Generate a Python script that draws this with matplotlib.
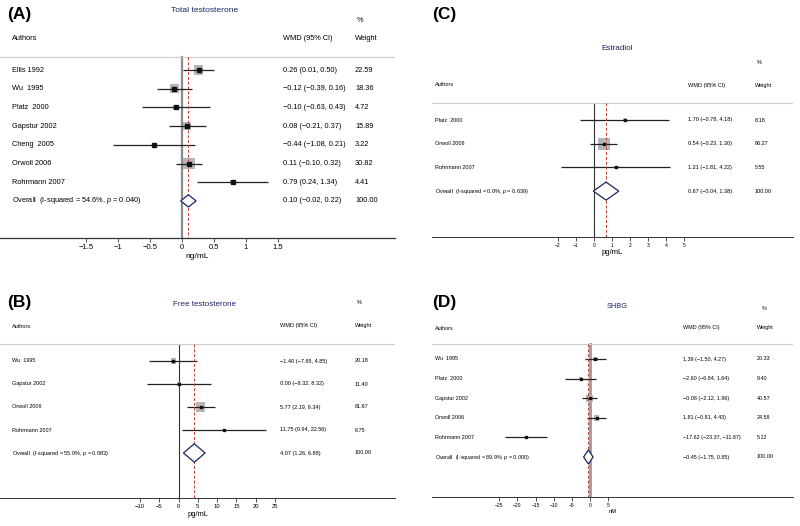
"""
Forest plots (WMD, 95% CI) for four hormones, laid out 2x2.
"""

import numpy as np
import matplotlib
matplotlib.use('Agg')
import matplotlib.pyplot as plt

plt.rcParams['font.family'] = ['Liberation Sans', 'DejaVu Sans']
plt.rcParams['mathtext.fontset'] = 'custom'
plt.rcParams['mathtext.rm'] = 'Liberation Sans'
plt.rcParams['mathtext.it'] = 'Liberation Sans:italic'

W, H = 800, 526

# ---------------- data ----------------
a_authors = ['Ellis 1992', 'Wu  1995', 'Platz  2000', 'Gapstur 2002',
             'Cheng  2005', 'Orwoll 2006', 'Rohrmann 2007']
a_est     = [0.26, -0.12, -0.10, 0.08, -0.44, 0.11, 0.79]
a_lo      = [0.01, -0.39, -0.63, -0.21, -1.08, -0.10, 0.24]
a_hi      = [0.50, 0.16, 0.43, 0.37, 0.21, 0.32, 1.34]
a_weight  = [22.59, 18.36, 4.72, 15.89, 3.22, 30.82, 4.41]
a_overall = (0.10, -0.02, 0.22)
a_het     = '54.6%', '0.040'
a_ticks   = [-1.5, -1, -0.5, 0, 0.5, 1, 1.5]

b_authors = ['Wu  1995', 'Gapstur 2002', 'Orwoll 2006', 'Rohrmann 2007']
b_est     = [-1.40, 0.00, 5.77, 11.75]
b_lo      = [-7.65, -8.32, 2.19, 0.94]
b_hi      = [4.85, 8.32, 9.34, 22.56]
b_weight  = [20.18, 11.40, 61.67, 6.75]
b_overall = (4.07, 1.26, 6.88)
b_het     = '55.0%', '0.083'
b_ticks   = [-10, -5, 0, 5, 10, 15, 20, 25]

c_authors = ['Platz  2000', 'Orwoll 2006', 'Rohrmann 2007']
c_est     = [1.70, 0.54, 1.21]
c_lo      = [-0.78, -0.23, -1.81]
c_hi      = [4.18, 1.30, 4.22]
c_weight  = [8.18, 86.27, 5.55]
c_overall = (0.67, -0.04, 1.38)
c_het     = '0.0%', '0.639'
c_ticks   = [-2, -1, 0, 1, 2, 3, 4, 5]

d_authors = ['Wu  1995', 'Platz  2000', 'Gapstur 2002', 'Orwoll 2006', 'Rohrmann 2007']
d_est     = [1.39, -2.60, -0.08, 1.81, -17.62]
d_lo      = [-1.50, -6.84, -2.12, -0.81, -23.37]
d_hi      = [4.27, 1.64, 1.96, 4.43, -11.87]
d_weight  = [20.33, 9.40, 40.57, 24.58, 5.12]
d_overall = (-0.45, -1.75, 0.85)
d_het     = '89.9%', '0.000'
d_ticks   = [-25, -20, -15, -10, -5, 0, 5]

NAVY = '#1c2466'
RED = '#c0392b'
BOXGRAY = '#b5b5b5'


def fmt(v):
    return '{:.2f}'.format(v).replace('-', '\u2212')


def forest(fig, g, authors, est, lo, hi, weight, overall, het, ticks,
           label, title, unit):
    left, right, top, axis_y = g['left'], g['right'], g['top'], g['axis']
    zero, ppu, row0, dy = g['zero'], g['ppu'], g['row0'], g['dy']
    fs = g['fs']

    ax = fig.add_axes([left / W, 1 - axis_y / H, (right - left) / W, (axis_y - top) / H])
    ax.set_xlim((left - zero) / ppu, (right - zero) / ppu)
    ax.set_ylim((axis_y - row0) / dy, (top - row0) / dy)
    for s in ['top', 'right', 'left']:
        ax.spines[s].set_visible(False)
    ax.spines['bottom'].set_linewidth(g['spine_lw'])
    ax.spines['bottom'].set_color('#333333')
    ax.set_yticks([])
    ax.set_xticks(ticks)
    ax.set_xticklabels([('{:g}'.format(t)).replace('-', '\u2212') for t in ticks])
    ax.tick_params(axis='x', labelsize=g['tick_fs'], length=3, width=0.6,
                   pad=1.5, color='#333333')
    ax.set_xlabel(unit, fontsize=g['lab_fs'], labelpad=g['labpad'])

    hline = (g['hline'] - row0) / dy
    ybot = (axis_y - row0) / dy
    n = len(authors)
    rows = np.arange(n)
    ov_row = n

    ax.axhline(hline, color='#cccccc', lw=0.8)
    ax.plot([0, 0], [hline, ybot], color=g['zero_color'], lw=g['zero_lw'], zorder=1)
    ax.plot([overall[0], overall[0]], [hline, ybot], color=RED, lw=0.7,
            ls=(0, (3, 2)), zorder=4)

    # study estimates
    sizes = (g['box_k'] * np.sqrt(weight) * 0.72) ** 2
    ax.scatter(est, rows, s=sizes, marker='s', color=BOXGRAY, lw=0, zorder=2)
    ax.hlines(rows, lo, hi, color='#222222', lw=0.9, zorder=3)
    ax.plot(est, rows, 's', color='#111111', ms=g['dot_ms'], zorder=5)

    # pooled diamond
    h = g['dh']
    ax.fill([overall[1], overall[0], overall[2], overall[0]],
            [ov_row, ov_row - h, ov_row, ov_row + h],
            facecolor='white', edgecolor=NAVY, lw=0.9, zorder=6)

    # text columns
    tr = ax.get_yaxis_transform()
    fx = lambda px: (px - left) / (right - left)
    for i in range(n):
        ax.text(fx(g['x_name']), i, authors[i], transform=tr, fontsize=fs, va='center')
        ax.text(fx(g['x_wmd']), i, '{} ({}, {})'.format(fmt(est[i]), fmt(lo[i]), fmt(hi[i])),
                transform=tr, fontsize=fs, va='center')
        ax.text(fx(g['x_w']), i, '{:.2f}'.format(weight[i]), transform=tr, fontsize=fs, va='center')
    ax.text(fx(g['x_name']), ov_row,
            'Overall  (I-squared = {}, $p$ = {})'.format(het[0], het[1]),
            transform=tr, fontsize=fs, va='center')
    ax.text(fx(g['x_wmd']), ov_row, '{} ({}, {})'.format(*[fmt(v) for v in overall]),
            transform=tr, fontsize=fs, va='center')
    ax.text(fx(g['x_w']), ov_row, '100.00', transform=tr, fontsize=fs, va='center')

    # headers
    ft = lambda x, y: (x / W, 1 - y / H)
    fig.text(*ft(*g['p_label']), label, fontsize=12.5, fontweight='bold', va='center')
    fig.text(*ft(*g['p_title']), title, fontsize=g['title_fs'], color=NAVY,
             ha='center', va='center')
    fig.text(*ft(*g['p_pct']), '%', fontsize=fs, va='center')
    fig.text(*ft(g['x_name'], g['y_head']), 'Authors', fontsize=fs, va='center')
    fig.text(*ft(g['x_wmd'], g['y_head']), 'WMD (95% CI)', fontsize=fs, va='center')
    fig.text(*ft(g['x_w'], g['y_head']), 'Weight', fontsize=fs, va='center')
    return ax


fig = plt.figure(figsize=(8, 5.26), dpi=100)

geom_a = dict(left=0, right=395, top=0, axis=238, zero=182, ppu=64, row0=70, dy=18.7,
              hline=57, fs=5.3, tick_fs=5.5, lab_fs=6, labpad=1, spine_lw=0.9, title_fs=6.1,
              zero_color='#8a8a8a', zero_lw=1.6, box_k=2.0, dot_ms=2.2, dh=0.33,
              x_name=12, x_wmd=283, x_w=355, y_head=39,
              p_label=(7, 14), p_title=(205, 10), p_pct=(357, 20))
geom_b = dict(left=0, right=395, top=270, axis=498, zero=178.6, ppu=3.857, row0=361, dy=23,
              hline=344, fs=4, tick_fs=4.2, lab_fs=5.4, labpad=1, spine_lw=0.7, title_fs=5.8,
              zero_color='#333333', zero_lw=0.8, box_k=1.15, dot_ms=1.8, dh=0.4,
              x_name=12, x_wmd=280, x_w=355, y_head=326,
              p_label=(7, 302), p_title=(205, 304), p_pct=(357, 303))
geom_c = dict(left=432, right=793, top=0, axis=237, zero=594, ppu=18, row0=120, dy=23.7,
              hline=103, fs=4, tick_fs=3.6, lab_fs=5.5, labpad=0.5, spine_lw=0.7, title_fs=5.9,
              zero_color='#333333', zero_lw=0.8, box_k=1.3, dot_ms=1.6, dh=0.38,
              x_name=435, x_wmd=688, x_w=755, y_head=85,
              p_label=(432, 15), p_title=(617, 49), p_pct=(757, 62))
geom_d = dict(left=432, right=793, top=270, axis=497, zero=590, ppu=3.63, row0=359, dy=19.6,
              hline=344, fs=3.9, tick_fs=3.6, lab_fs=4.2, labpad=0.5, spine_lw=0.7, title_fs=5.3,
              zero_color='#9a9a9a', zero_lw=2.0, box_k=1.1, dot_ms=1.6, dh=0.36,
              x_name=435, x_wmd=683, x_w=757, y_head=328,
              p_label=(432, 302), p_title=(617, 306), p_pct=(762, 309))

forest(fig, geom_a, a_authors, a_est, a_lo, a_hi, a_weight, a_overall, a_het, a_ticks,
       '(A)', 'Total testosterone', 'ng/mL')
forest(fig, geom_b, b_authors, b_est, b_lo, b_hi, b_weight, b_overall, b_het, b_ticks,
       '(B)', 'Free testosterone', 'pg/mL')
forest(fig, geom_c, c_authors, c_est, c_lo, c_hi, c_weight, c_overall, c_het, c_ticks,
       '(C)', 'Estradiol', 'pg/mL')
forest(fig, geom_d, d_authors, d_est, d_lo, d_hi, d_weight, d_overall, d_het, d_ticks,
       '(D)', 'SHBG', 'nM')

fig.savefig('out.png', dpi=100)
